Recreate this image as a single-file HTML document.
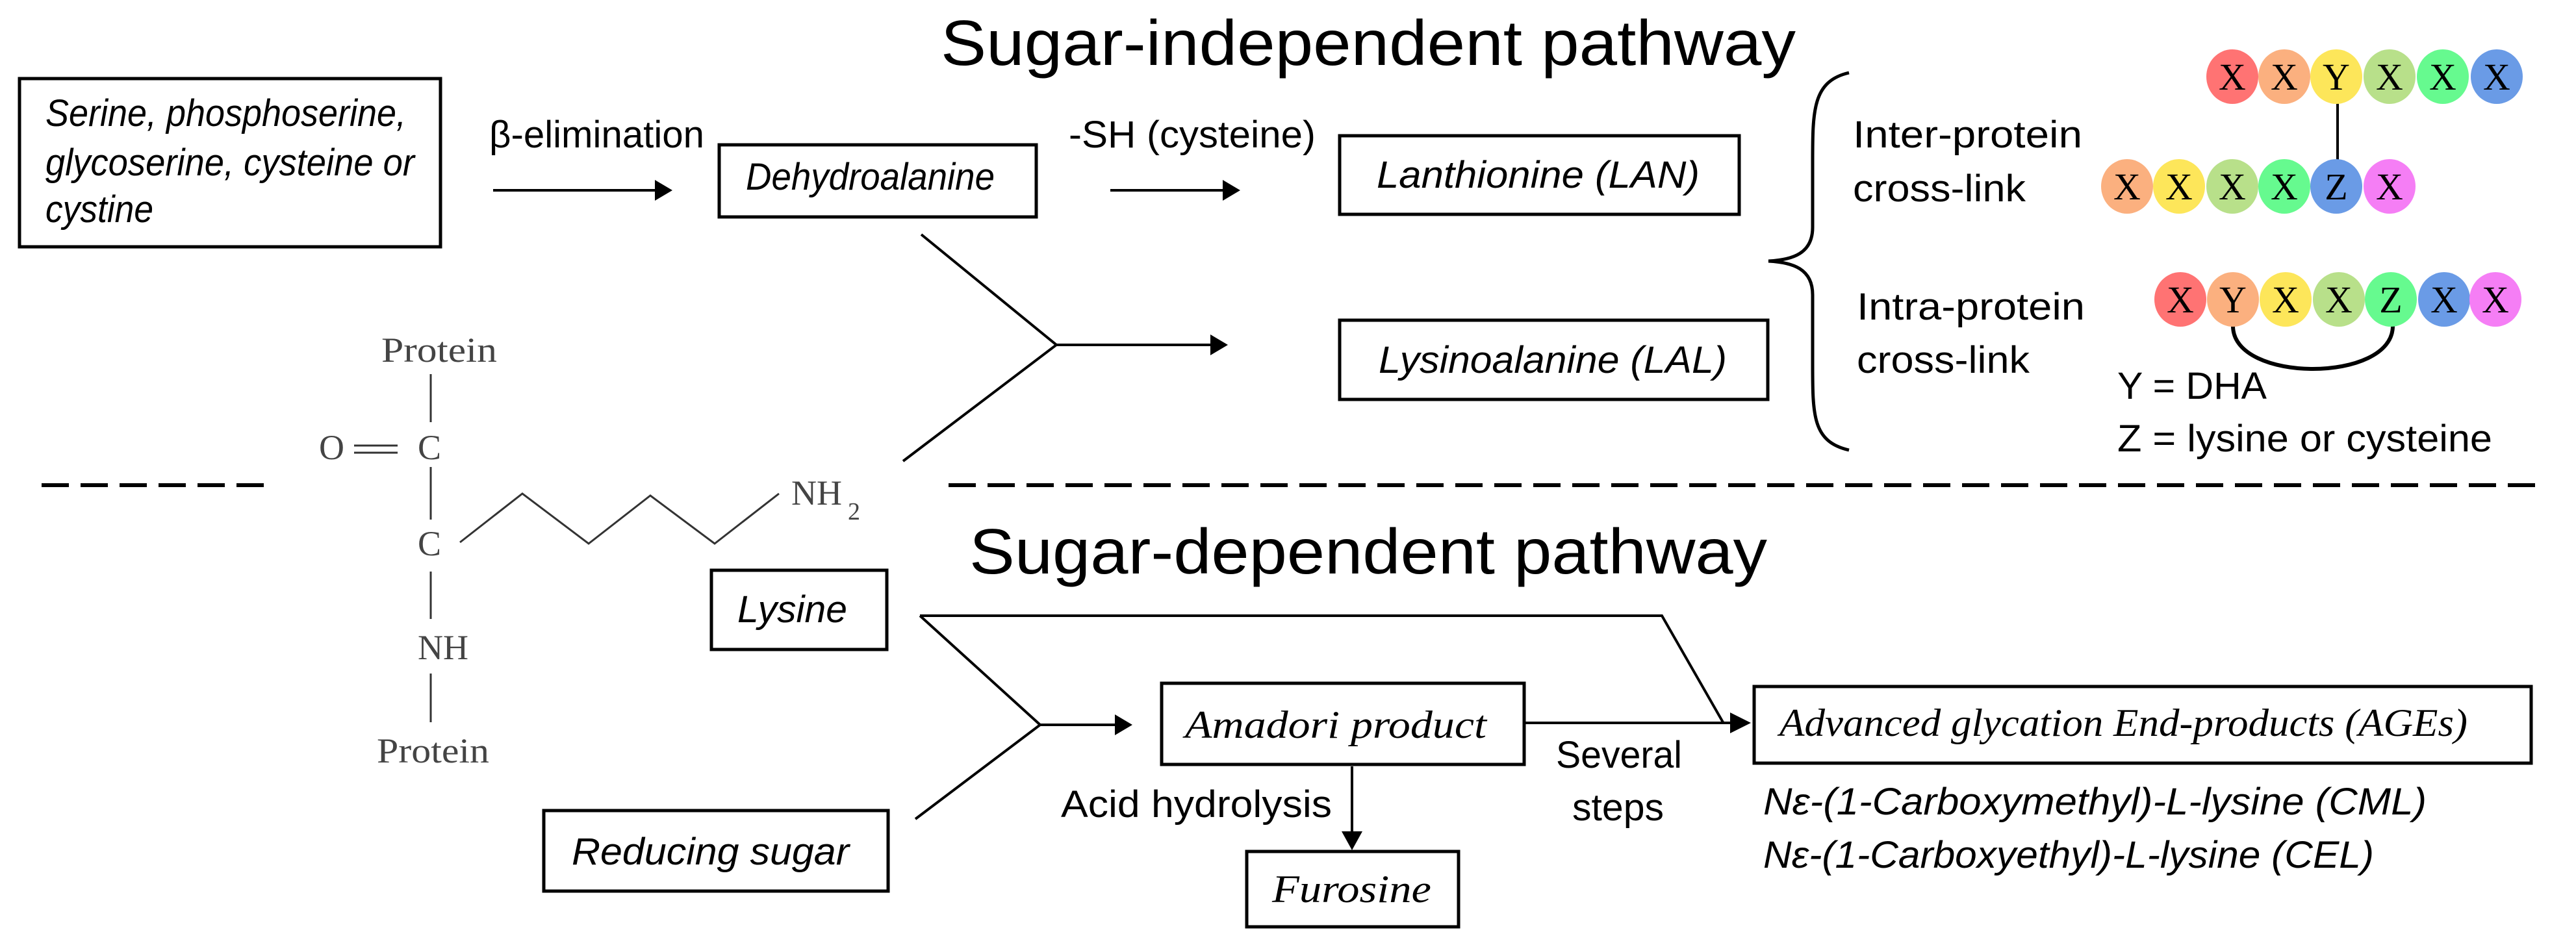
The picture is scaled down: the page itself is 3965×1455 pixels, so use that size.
<!DOCTYPE html>
<html><head><meta charset="utf-8"><style>
html,body{margin:0;padding:0;background:#fff;}
svg{display:block;}
.s{font-family:"Liberation Sans",sans-serif;fill:#000;}
.i{font-family:"Liberation Sans",sans-serif;font-style:italic;fill:#000;}
.r{font-family:"Liberation Serif",serif;font-style:italic;fill:#000;}
.g{font-family:"Liberation Serif",serif;fill:#444;}
.b{font-family:"Liberation Serif",serif;fill:#000;text-anchor:middle;}
</style></head><body>
<svg width="3965" height="1455" viewBox="0 0 3965 1455" xmlns="http://www.w3.org/2000/svg">
<g fill="none" stroke="#000" stroke-width="5">
<rect x="30" y="121" width="648" height="259"/>
<rect x="1107" y="223" width="488" height="111"/>
<rect x="2062" y="209" width="615" height="121"/>
<rect x="2062" y="493" width="659" height="122"/>
<rect x="1095" y="878" width="270" height="122"/>
<rect x="837" y="1248" width="530" height="124"/>
<rect x="1788" y="1052" width="558" height="125"/>
<rect x="1919" y="1311" width="326" height="116"/>
<rect x="2700" y="1057" width="1196" height="118"/>
</g>
<g stroke="#000" stroke-width="6" stroke-dasharray="42 18">
<line x1="64" y1="747" x2="406" y2="747"/>
<line x1="1460" y1="747" x2="3917" y2="747"/>
</g>
<g stroke="#000" stroke-width="4" fill="none">
<line x1="759" y1="293" x2="1010" y2="293"/>
<line x1="1709" y1="293" x2="1885" y2="293"/>
<polyline points="1418,361 1626,531 1390,710"/>
<line x1="1626" y1="531" x2="1865" y2="531"/>
<polyline points="1416,948 2558,948 2652,1112"/>
<polyline points="1416,948 1601,1116 1409,1261"/>
<line x1="1601" y1="1116" x2="1718" y2="1116"/>
<line x1="2348" y1="1113" x2="2668" y2="1113"/>
<line x1="2081" y1="1180" x2="2081" y2="1285"/>
<line x1="3598" y1="158" x2="3598" y2="248"/>
<path d="M3437 502 C3437 590 3683 590 3683 502" stroke-width="6"/>
<path d="M2846 112 C2790 125 2790 170 2790 250 L2790 350 C2790 390 2760 400 2722 402 C2760 404 2790 414 2790 454 L2790 560 C2790 640 2790 680 2846 693" stroke-width="5"/>
</g>
<g fill="#000">
<polygon points="1035,293 1008,277 1008,309"/>
<polygon points="1909,293 1882,277 1882,309"/>
<polygon points="1890,531 1863,515 1863,547"/>
<polygon points="1743,1116 1716,1100 1716,1132"/>
<polygon points="2695,1113 2663,1097 2663,1129"/>
<polygon points="2081,1309 2065,1280 2097,1280"/>
</g>
<g stroke="#333" stroke-width="3" fill="none">
<line x1="663" y1="576" x2="663" y2="650"/>
<line x1="663" y1="719" x2="663" y2="800"/>
<line x1="663" y1="880" x2="663" y2="953"/>
<line x1="663" y1="1037" x2="663" y2="1112"/>
<line x1="545" y1="686" x2="612" y2="686"/>
<line x1="545" y1="697" x2="612" y2="697"/>
<polyline points="708,835 804,760 906,837 1001,763 1100,837 1199,760"/>
</g>
<g class="g" font-size="54">
<text x="587" y="557" textLength="178" lengthAdjust="spacingAndGlyphs">Protein</text>
<text x="491" y="707">O</text>
<text x="643" y="707">C</text>
<text x="643" y="855">C</text>
<text x="643" y="1015">NH</text>
<text x="580" y="1174" textLength="173" lengthAdjust="spacingAndGlyphs">Protein</text>
<text x="1218" y="777">NH</text>
<text x="1305" y="800" font-size="38">2</text>
</g>
<text class="s" x="1448" y="100" font-size="98" textLength="1316" lengthAdjust="spacingAndGlyphs">Sugar-independent pathway</text>
<text class="s" x="1492" y="883" font-size="98" textLength="1228" lengthAdjust="spacingAndGlyphs">Sugar-dependent pathway</text>
<g class="i" font-size="58">
<text x="70" y="194" textLength="555" lengthAdjust="spacingAndGlyphs">Serine, phosphoserine,</text>
<text x="70" y="270" textLength="568" lengthAdjust="spacingAndGlyphs">glycoserine, cysteine or</text>
<text x="70" y="342" textLength="166" lengthAdjust="spacingAndGlyphs">cystine</text>
<text x="1148" y="292" textLength="383" lengthAdjust="spacingAndGlyphs">Dehydroalanine</text>
<text x="2119" y="289" textLength="497" lengthAdjust="spacingAndGlyphs">Lanthionine (LAN)</text>
<text x="2122" y="574" textLength="536" lengthAdjust="spacingAndGlyphs">Lysinoalanine (LAL)</text>
<text x="1135" y="958" textLength="169" lengthAdjust="spacingAndGlyphs">Lysine</text>
<text x="880" y="1331" textLength="427" lengthAdjust="spacingAndGlyphs">Reducing sugar</text>
<text x="2714" y="1254" textLength="1021" lengthAdjust="spacingAndGlyphs">Nε-(1-Carboxymethyl)-L-lysine (CML)</text>
<text x="2714" y="1336" textLength="940" lengthAdjust="spacingAndGlyphs">Nε-(1-Carboxyethyl)-L-lysine (CEL)</text>
</g>
<g class="r" font-size="60">
<text x="1824" y="1136" textLength="464" lengthAdjust="spacingAndGlyphs">Amadori product</text>
<text x="1958" y="1389" textLength="245" lengthAdjust="spacingAndGlyphs">Furosine</text>
<text x="2739" y="1133" textLength="1059" lengthAdjust="spacingAndGlyphs">Advanced glycation End-products (AGEs)</text>
</g>
<g class="s" font-size="58">
<text x="753" y="227" textLength="331" lengthAdjust="spacingAndGlyphs">β-elimination</text>
<text x="1645" y="227" textLength="380" lengthAdjust="spacingAndGlyphs">-SH (cysteine)</text>
<text x="2852" y="227" textLength="353" lengthAdjust="spacingAndGlyphs">Inter-protein</text>
<text x="2852" y="310" textLength="266" lengthAdjust="spacingAndGlyphs">cross-link</text>
<text x="2858" y="492" textLength="351" lengthAdjust="spacingAndGlyphs">Intra-protein</text>
<text x="2858" y="574" textLength="266" lengthAdjust="spacingAndGlyphs">cross-link</text>
<text x="3259" y="614" textLength="230" lengthAdjust="spacingAndGlyphs">Y = DHA</text>
<text x="3259" y="695" textLength="577" lengthAdjust="spacingAndGlyphs">Z = lysine or cysteine</text>
<text x="1633" y="1258" textLength="417" lengthAdjust="spacingAndGlyphs">Acid hydrolysis</text>
<text x="2395" y="1182" textLength="194" lengthAdjust="spacingAndGlyphs">Several</text>
<text x="2420" y="1263" textLength="141" lengthAdjust="spacingAndGlyphs">steps</text>
</g>
<g>
<ellipse cx="3436" cy="118" rx="40" ry="42" fill="#ff7373"/>
<ellipse cx="3516" cy="118" rx="40" ry="42" fill="#fbb07f"/>
<ellipse cx="3596" cy="118" rx="40" ry="42" fill="#fde65a"/>
<ellipse cx="3678" cy="118" rx="40" ry="42" fill="#b8e08a"/>
<ellipse cx="3760" cy="118" rx="40" ry="42" fill="#66fa8f"/>
<ellipse cx="3843" cy="118" rx="40" ry="42" fill="#6a9be6"/>
<ellipse cx="3274" cy="287" rx="40" ry="42" fill="#fbb07f"/>
<ellipse cx="3354" cy="287" rx="40" ry="42" fill="#fde65a"/>
<ellipse cx="3436" cy="287" rx="40" ry="42" fill="#b8e08a"/>
<ellipse cx="3516" cy="287" rx="40" ry="42" fill="#66fa8f"/>
<ellipse cx="3596" cy="287" rx="40" ry="42" fill="#6a9be6"/>
<ellipse cx="3678" cy="287" rx="40" ry="42" fill="#f57ef5"/>
<ellipse cx="3356" cy="461" rx="40" ry="42" fill="#ff7373"/>
<ellipse cx="3437" cy="461" rx="40" ry="42" fill="#fbb07f"/>
<ellipse cx="3518" cy="461" rx="40" ry="42" fill="#fde65a"/>
<ellipse cx="3600" cy="461" rx="40" ry="42" fill="#b8e08a"/>
<ellipse cx="3680" cy="461" rx="40" ry="42" fill="#66fa8f"/>
<ellipse cx="3762" cy="461" rx="40" ry="42" fill="#6a9be6"/>
<ellipse cx="3841" cy="461" rx="40" ry="42" fill="#f57ef5"/>
</g>
<g class="b" font-size="58">
<text x="3436" y="138">X</text><text x="3516" y="138">X</text><text x="3596" y="138">Y</text><text x="3678" y="138">X</text><text x="3760" y="138">X</text><text x="3843" y="138">X</text>
<text x="3274" y="307">X</text><text x="3354" y="307">X</text><text x="3436" y="307">X</text><text x="3516" y="307">X</text><text x="3596" y="307">Z</text><text x="3678" y="307">X</text>
<text x="3356" y="481">X</text><text x="3437" y="481">Y</text><text x="3518" y="481">X</text><text x="3600" y="481">X</text><text x="3680" y="481">Z</text><text x="3762" y="481">X</text><text x="3841" y="481">X</text>
</g>
</svg>
</body></html>
